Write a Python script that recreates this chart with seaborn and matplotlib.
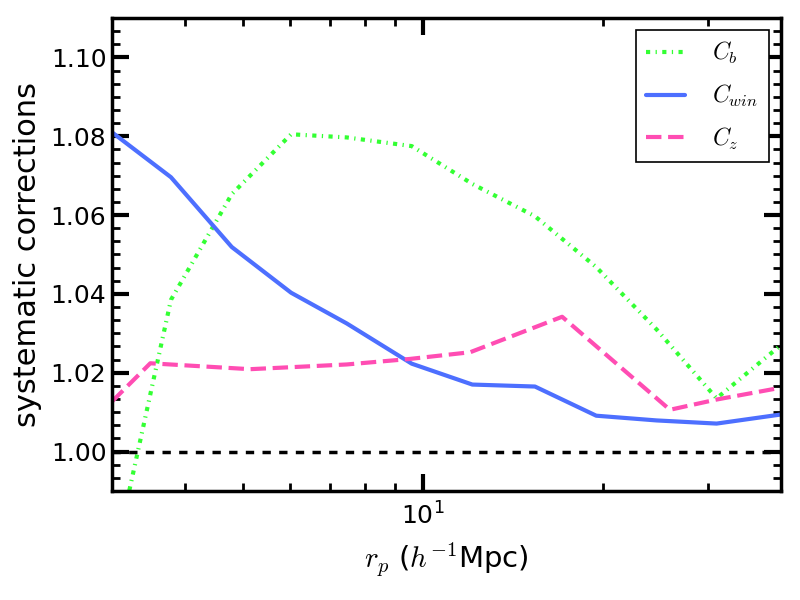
import numpy as np
import pandas as pd
import matplotlib
matplotlib.use("Agg")
import matplotlib.pyplot as plt
import seaborn as sns
from matplotlib.ticker import AutoMinorLocator, LogLocator, NullFormatter

# ---- data ----
rp = [3.02, 3.79, 4.79, 6.02, 7.46, 9.58, 12.1, 15.4, 19.5, 24.6, 31.0, 39.7]
c_b = [0.970, 1.0385, 1.0653, 1.0805, 1.0797, 1.0775, 1.0679, 1.0597, 1.0468, 1.031, 1.0135, 1.027]
c_win = [1.081, 1.0696, 1.0519, 1.0403, 1.0325, 1.0223, 1.0170, 1.0165, 1.0091, 1.0079, 1.0071, 1.0094]
rp_z = [3.02, 3.50, 5.14, 7.46, 9.51, 12.0, 17.1, 25.9, 31.0, 39.7]
c_z = [1.0127, 1.0224, 1.0209, 1.0221, 1.0235, 1.0252, 1.0342, 1.0106, 1.0132, 1.0162]

sns.set_style("white")
plt.rcParams["font.family"] = ["DejaVu Sans"]
plt.rcParams["mathtext.fontset"] = "cm"
plt.rcParams["text.color"] = "black"
plt.rcParams["axes.labelcolor"] = "black"
plt.rcParams["xtick.color"] = "black"
plt.rcParams["ytick.color"] = "black"

fig = plt.figure(figsize=(8, 6), dpi=100)
ax = fig.add_axes([0.14, 0.1817, 0.836, 0.7883])

df_b = pd.DataFrame({"rp": rp, "v": c_b})
df_w = pd.DataFrame({"rp": rp, "v": c_win})
df_z = pd.DataFrame({"rp": rp_z, "v": c_z})

sns.lineplot(data=df_b, x="rp", y="v", ax=ax, color="#33ff33", lw=3,
             label=r"$C_b$", estimator=None, sort=False)
ax.lines[-1].set_dashes((1.0, 1.3, 0.3, 1.3))
sns.lineplot(data=df_w, x="rp", y="v", ax=ax, color="#4d6fff", lw=3,
             label=r"$C_{win}$", estimator=None, sort=False)
sns.lineplot(data=df_z, x="rp", y="v", ax=ax, color="#ff4db3", lw=3,
             label=r"$C_z$", estimator=None, sort=False)
ax.lines[-1].set_dashes((3.7, 1.6))

ax.axhline(1.0, color="black", lw=2.5, dashes=(2.4, 2.4))

ax.set_xscale("log")
ax.set_xlim(3.02, 39.7)
ax.set_ylim(0.99, 1.11)
ax.set_yticks([1.00, 1.02, 1.04, 1.06, 1.08, 1.10])
ax.yaxis.set_minor_locator(AutoMinorLocator(6))
ax.xaxis.set_major_locator(LogLocator(base=10))
ax.xaxis.set_minor_locator(LogLocator(base=10, subs=np.arange(2, 10)))
ax.xaxis.set_minor_formatter(NullFormatter())

ax.tick_params(which="major", direction="in", length=12, width=3,
               top=True, right=True, left=True, bottom=True,
               labelsize=18, colors="black")
ax.tick_params(axis="y", which="major", pad=4)
ax.tick_params(axis="x", which="major", pad=8)
ax.tick_params(which="minor", direction="in", length=6, width=2,
               top=True, right=True, left=True, bottom=True, colors="black")
for s in ax.spines.values():
    s.set_linewidth(2.5)
    s.set_color("black")

ax.set_xlabel(r"$r_p$ ($h^{-1}$Mpc)", fontsize=21, labelpad=8)
ax.set_ylabel("systematic corrections", fontsize=22, labelpad=6)

leg = ax.legend(loc="upper right", fontsize=17, fancybox=False, frameon=True,
                edgecolor="black", handlelength=1.65, handletextpad=1.15,
                labelspacing=0.7, borderpad=0.45)
leg.get_frame().set_linewidth(1.2)
leg.get_frame().set_alpha(1)

fig.savefig("out.png", dpi=100)
